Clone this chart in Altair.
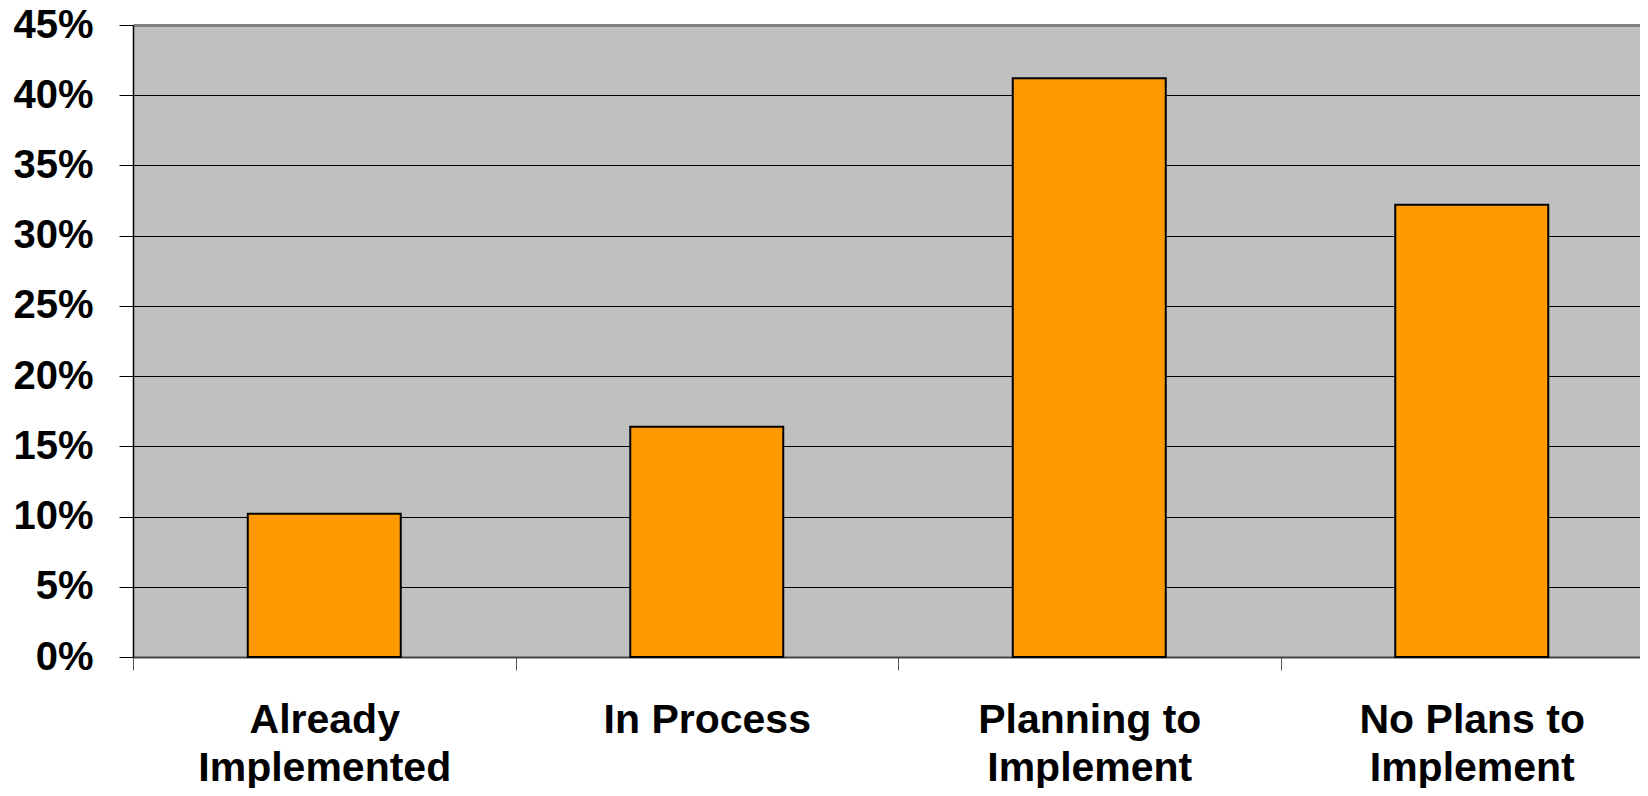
import altair as alt
import pandas as pd
import json

categories = ["Already Implemented", "In Process", "Planning to Implement", "No Plans to Implement"]
label_lines = [["Already", "Implemented"], ["In Process"], ["Planning to", "Implement"], ["No Plans to", "Implement"]]
values = [0.102, 0.164, 0.412, 0.322]
y_ticks = [0, 0.05, 0.10, 0.15, 0.20, 0.25, 0.30, 0.35, 0.40, 0.45]

df = pd.DataFrame({"category": categories, "value": values})

expr = "null"
for cat, lines in zip(reversed(categories), reversed(label_lines)):
    expr = f"datum.label == {json.dumps(cat)} ? {json.dumps(lines)} : ({expr})"

FONT = "Arial, Liberation Sans, sans-serif"

chart = alt.Chart(df).mark_bar(
    width=alt.RelativeBandSize(0.4),
    color="#FF9900",
    stroke="#000000",
    strokeWidth=2,
).encode(
    x=alt.X("category:N", sort=categories, title=None,
            scale=alt.Scale(paddingInner=0, paddingOuter=0),
            axis=alt.Axis(labelAngle=0, labelExpr=expr, tickBand="extent", labelLimit=0,
                          labelFont=FONT, labelFontSize=41, labelFontWeight="bold",
                          labelColor="#000000", labelLineHeight=48, labelPadding=30,
                          tickSize=13, tickColor="#555555", domainColor="#444444",
                          domainWidth=2, grid=False)),
    y=alt.Y("value:Q", title=None,
            scale=alt.Scale(domain=[0, 0.45], nice=False, zero=True),
            axis=alt.Axis(values=y_ticks, format=".0%", labelFont=FONT, labelFontSize=40,
                          labelFontWeight="bold", labelColor="#000000", labelPadding=26,
                          tickSize=14, tickColor="#000000", domainColor="#000000",
                          domainWidth=1.5, grid=True,
                          gridColor=alt.condition("datum.value >= 0.45", alt.value("#808080"), alt.value("#000000")),
                          gridWidth=alt.condition("datum.value >= 0.45", alt.value(3), alt.value(1)))),
).properties(
    width=1530,
    height=632,
    autosize=alt.AutoSizeParams(type="none"),
    padding={"left": 125, "top": 17, "right": -23, "bottom": 131},
    background="#FFFFFF",
).configure_view(
    fill="#C0C0C0",
    stroke=None,
)

chart.save("out.html", embed_options={"renderer": "svg", "actions": False})
